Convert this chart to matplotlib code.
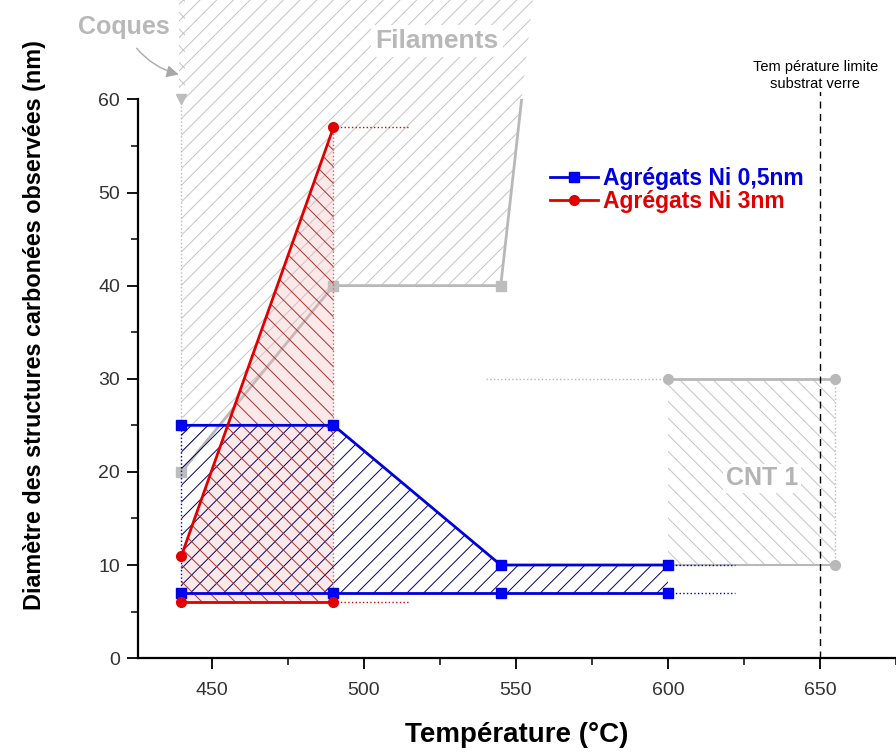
import numpy as np
import matplotlib.pyplot as plt
from matplotlib.lines import Line2D

plt.rcParams['font.family'] = ['Liberation Sans', 'DejaVu Sans']
plt.rcParams['hatch.linewidth'] = 0.7

# --- data ---
t_05 = [440, 490, 545, 600]
d05_max = [25, 25, 10, 10]
d05_min = [7, 7, 7, 7]

t_3 = [440, 490]
d3_max = [11, 57]
d3_min = [6, 6]

fil_t = [440, 490, 545, 556]
fil_min = [20, 40, 40, 72]
fil_top_t = [440, 556]
fil_top = [72, 72]

coques_t = [440]
coques_d = [60]

cnt_t = [600, 655]
cnt_min = [10, 10]
cnt_max = [30, 30]

t_limit = 650

blue = '#0000dd'
red = '#e00000'
grey = '#b8b8b8'

fig = plt.figure(figsize=(8.96, 7.53), dpi=100)
ax = fig.add_axes([0.154, 0.126, 0.846, 0.742])

# Filaments zone (grey, drawn outside the axes too)
poly_x = [440] + fil_t + fil_top_t[::-1]
poly_y = [72] + fil_min + fil_top[::-1]
ax.fill(poly_x, poly_y, facecolor='white', edgecolor='#c4c4c4', hatch='//',
        linewidth=0, clip_on=False, zorder=1)
ax.plot(fil_t, fil_min, color=grey, lw=2, zorder=2)
ax.plot(fil_t[:3], fil_min[:3], ls='none', marker='s', ms=7, color='#bdbdbd', zorder=3)
ax.plot([440, 440], [20, 72], color=grey, lw=1, ls=':', clip_on=False, zorder=2)
ax.fill_betweenx([60, 72], 439.2, 441.2, facecolor='white', edgecolor='#c4c4c4',
                 hatch='xx', linewidth=0, clip_on=False, zorder=2)
ax.plot(coques_t, coques_d, ls='none', marker='v', ms=7, color='#bdbdbd', zorder=3, clip_on=False)

# CNT zone
ax.fill_between(cnt_t, cnt_min, cnt_max, facecolor='white', edgecolor='#c4c4c4',
                hatch='\\\\', linewidth=0, zorder=1)
ax.plot(cnt_t, cnt_max, color=grey, lw=2, marker='o', ms=7, zorder=2)
ax.plot(cnt_t, cnt_min, color=grey, lw=1.5, zorder=2)
ax.plot(cnt_t[1:], cnt_min[1:], ls='none', marker='o', ms=7, color=grey, zorder=2)
ax.plot([540, 600], [30, 30], color=grey, lw=1, ls=':', zorder=2)
ax.plot([655, 655], [10, 30], color=grey, lw=1, ls=':', zorder=2)

# Ni 0,5nm zone
ax.fill_between(t_05, d05_min, d05_max, facecolor='none', edgecolor='#000070',
                hatch='//', linewidth=0, zorder=4)
ax.plot(t_05, d05_max, color=blue, lw=2, marker='s', ms=7, mfc='#0000ff', zorder=6)
ax.plot(t_05, d05_min, color=blue, lw=2, marker='s', ms=7, mfc='#0000ff', zorder=6)
ax.plot([440, 440], [7, 25], color=blue, lw=1, ls=':', zorder=5)
ax.plot([600, 622], [10, 10], color=blue, lw=1, ls=':', zorder=5)
ax.plot([600, 622], [7, 7], color=blue, lw=1, ls=':', zorder=5)

# Ni 3nm zone
ax.fill_between(t_3, d3_min, d3_max, facecolor='#f5b8b8', alpha=0.3, linewidth=0, zorder=3)
ax.fill_between(t_3, d3_min, d3_max, facecolor='none', edgecolor='#a83030',
                hatch='\\\\', linewidth=0, zorder=4)
ax.plot(t_3, d3_max, color=red, lw=2, marker='o', ms=7, zorder=7)
ax.plot(t_3, d3_min, color=red, lw=2, marker='o', ms=7, zorder=7)
ax.plot([490, 490], [6, 57], color='#e06060', lw=1, ls=':', zorder=5)
ax.plot([490, 515], [57, 57], color=red, lw=1, ls=':', zorder=5)
ax.plot([490, 515], [6, 6], color=red, lw=1, ls=':', zorder=5)

# temperature limit
ax.plot([t_limit, t_limit], [0, 62.0], color='black', lw=1, ls=(0, (5, 4)),
        clip_on=False, zorder=8)
ax.text(648.5, 62.6, 'Tem pérature limite\nsubstrat verre', fontsize=10.5,
        ha='center', va='center', linespacing=1.3,
        bbox=dict(facecolor='white', edgecolor='none', pad=1), zorder=9, clip_on=False)

# labels of zones
ax.text(524, 66.3, 'Filaments', fontsize=19, fontweight='bold', color=grey,
        ha='center', va='center', bbox=dict(facecolor='white', edgecolor='none', pad=3),
        zorder=9, clip_on=False)
ax.text(631, 19.3, 'CNT 1', fontsize=18, fontweight='bold', color='#b4b4b4',
        ha='center', va='center', bbox=dict(facecolor='white', edgecolor='none', pad=2),
        zorder=9)
ax.annotate('Coques', xy=(440, 62.6), xytext=(421, 67.8), fontsize=18,
            fontweight='bold', color=grey, ha='center', va='center',
            arrowprops=dict(arrowstyle='-|>', color='#a8a8a8', lw=1,
                            shrinkA=6, connectionstyle='arc3,rad=0.25'),
            annotation_clip=False, zorder=9)

# axes
ax.set_xlim(425.7, 675)
ax.set_ylim(0, 60)
ax.spines['top'].set_visible(False)
ax.spines['right'].set_visible(False)
ax.spines['left'].set_linewidth(1.6)
ax.spines['bottom'].set_linewidth(1.6)
ax.set_xticks([450, 500, 550, 600, 650])
ax.set_xticks([475, 525, 575, 625, 675], minor=True)
ax.set_yticks([0, 10, 20, 30, 40, 50, 60])
ax.set_yticks([5, 15, 25, 35, 45, 55], minor=True)
ax.tick_params(which='major', direction='out', length=8, width=1.3,
               labelsize=14, labelcolor='#333333')
ax.tick_params(which='minor', direction='out', length=5, width=1.1)
ax.tick_params(axis='x', which='major', pad=9)
ax.tick_params(axis='y', which='major', pad=5)

ax.set_xlabel('Température (°C)', fontsize=20, fontweight='bold')
ax.xaxis.set_label_coords(0.5, -0.115)
ax.set_ylabel('Diamètre des structures carbonées observées (nm)', fontsize=16.8,
              fontweight='bold')
ax.yaxis.set_label_coords(-0.121, 0.597)

handles = [Line2D([], [], color=blue, lw=2, marker='s', ms=7, mfc='#0000ff'),
           Line2D([], [], color=red, lw=2, marker='o', ms=7)]
leg = ax.legend(handles, ['Agrégats Ni 0,5nm', 'Agrégats Ni 3nm'], frameon=False,
                loc='upper left', bbox_to_anchor=(0.543, 0.879), borderaxespad=0,
                borderpad=0, handlelength=2.1, handletextpad=0.25, labelspacing=0.0,
                prop={'size': 16.5, 'weight': 'bold'})
for txt, c in zip(leg.get_texts(), [blue, red]):
    txt.set_color(c)
leg.set_zorder(10)

fig.savefig('out.png', dpi=100)
